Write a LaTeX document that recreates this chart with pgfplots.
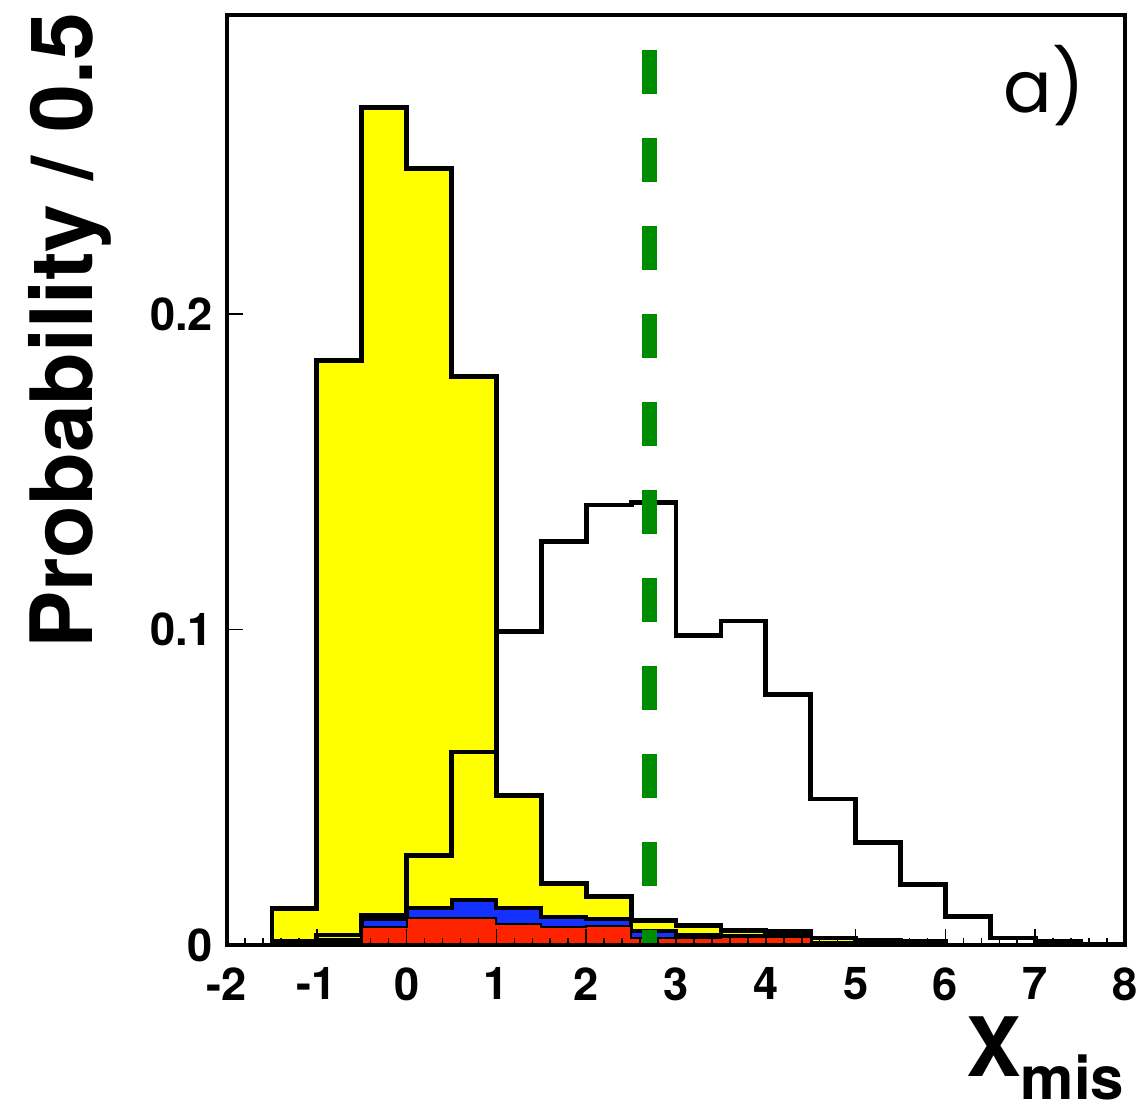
\documentclass[border=0pt]{standalone}
\usepackage{fontspec}
\setmainfont{TeX Gyre Heros}
\newfontfamily\pop{Poppins}
\usepackage{pgfplots}
\pgfplotsset{compat=1.18}
\definecolor{hyellow}{RGB}{255,255,0}
\definecolor{hblue}{RGB}{20,50,255}
\definecolor{hred}{RGB}{255,36,0}
\definecolor{hgreen}{RGB}{0,140,0}
\begin{document}
\begin{tikzpicture}
\useasboundingbox (-56.75pt,-40.75pt) rectangle (229.5pt,236.25pt);
\begin{axis}[
  scale only axis, width=224.5pt, height=232.5pt,
  xmin=-2, xmax=8, ymin=0, ymax=0.2948,
  axis on top,
  axis line style={line width=1.1pt},
  tick align=inside, xtick pos=left, ytick pos=left,
  xtick={-2,-1,0,1,2,3,4,5,6,7,8},
  xticklabels={-2,-1,0,1,2,3,4,5,6,7,8},
  minor x tick num=4,
  ytick={0,0.1,0.2}, yticklabels={0,0.1,0.2},
  major tick length=4pt, minor tick length=1.8pt,
  tick style={line width=0.4pt, black},
  xticklabel style={font=\bfseries\fontsize{11.3}{11.3}\selectfont, inner sep=0pt, anchor=north, yshift=-5.5pt},
  yticklabel style={font=\bfseries\fontsize{11.3}{11.3}\selectfont, inner sep=0pt, anchor=east, xshift=-3.3pt},
  every axis plot/.append style={line join=miter},
]
% open histogram
\addplot[black, line width=1.2pt, const plot mark left] coordinates {
 (1,0.0995) (1.5,0.1278) (2,0.1395) (2.5,0.1402) (3,0.098) (3.5,0.1027)
 (4,0.0795) (4.5,0.0463) (5,0.0326) (5.5,0.0193) (6,0.009) (6.5,0.0022)
 (7,0.0011) (7.5,0.0003) (8,0.0003)};
% big peak
\addplot[fill=hyellow, draw=black, line width=1.2pt, const plot mark left] coordinates {
 (-1.5,0) (-1.5,0.0117) (-1,0.1854) (-0.5,0.2656) (0,0.2462) (0.5,0.1801) (1,0)} \closedcycle;
% stack: total (yellow)
\addplot[fill=hyellow, draw=black, line width=1.2pt, const plot mark left] coordinates {
 (-1.5,0) (-1.5,0.0012) (-1,0.0032) (-0.5,0.0095) (0,0.0285) (0.5,0.0612) (1,0.0475)
 (1.5,0.0195) (2,0.0153) (2.5,0.0078) (3,0.0062) (3.5,0.0046) (4,0.0043)
 (4.5,0.0022) (5,0.0016) (5.5,0.0013) (6,0)} \closedcycle;
% stack: blue + red
\addplot[fill=hblue, draw=black, line width=1pt, const plot mark left] coordinates {
 (-1.5,0) (-1.5,0.001) (-1,0.0016) (-0.5,0.0082) (0,0.0118) (0.5,0.0143) (1,0.0116)
 (1.5,0.009) (2,0.0082) (2.5,0.0043) (3,0.0032) (3.5,0.003) (4,0.0028)
 (4.5,0.0008) (5,0.0006) (5.5,0.0005) (6,0)} \closedcycle;
% stack: red
\addplot[fill=hred, draw=black, line width=0.5pt, const plot mark left] coordinates {
 (-1.5,0) (-1.5,0.0008) (-1,0.0007) (-0.5,0.0058) (0,0.0086) (0.5,0.0085) (1,0.0066)
 (1.5,0.0058) (2,0.006) (2.5,0.0021) (3,0.0021) (3.5,0.0027) (4,0.0026)
 (4.5,0.0007) (5,0.0005) (5.5,0.0004) (6,0)} \closedcycle;
% cut line
\addplot[hgreen, line width=3.75pt, dash pattern=on 11pt off 11pt] coordinates {(2.703,0.2837) (2.703,0)};
\end{axis}
\node[rotate=90, anchor=base, inner sep=0pt, font=\bfseries\fontsize{21.5}{21.5}\selectfont] at (-33.5pt,153.5pt) {Probability / 0.5};
\node[anchor=base east, inner sep=0pt, font=\bfseries\fontsize{20.5}{20.5}\selectfont] at (224.5pt,-32.8pt) {X\raisebox{-5.9pt}{\fontsize{15}{15}\selectfont mis}};
\node[anchor=base west, inner sep=0pt, font=\pop\fontsize{18}{18}\selectfont] at (194pt,208.25pt) {a)};
\end{tikzpicture}
\end{document}
